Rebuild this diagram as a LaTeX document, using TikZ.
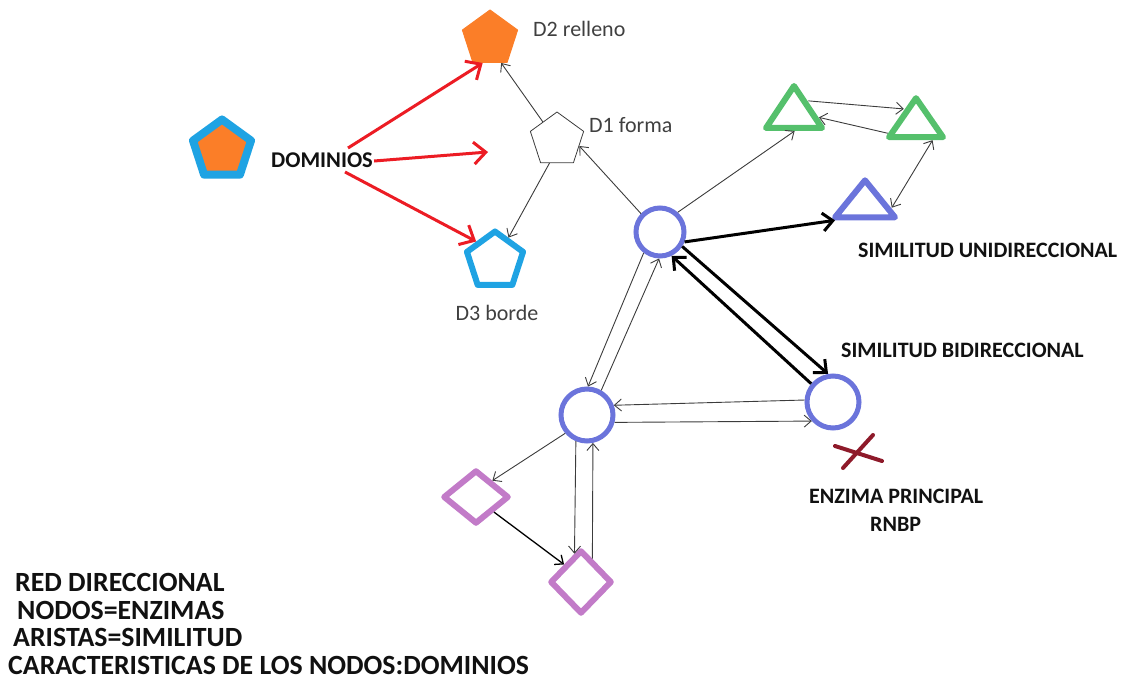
\documentclass[tikz,border=0pt]{standalone}
\usepackage{fontspec}
\setmainfont{Carlito}
\usetikzlibrary{arrows.meta,shapes.geometric,calc}

\definecolor{paintorange}{HTML}{FB7E28}
\definecolor{paintcyan}{HTML}{1FA3E3}
\definecolor{enzblue}{HTML}{6B74DB}
\definecolor{enzgreen}{HTML}{55C06C}
\definecolor{enzpurple}{HTML}{C27BC8}
\definecolor{paintred}{HTML}{EC1C24}
\definecolor{darkred}{HTML}{8E1A2A}
\definecolor{edgegray}{HTML}{3C3C3C}
\definecolor{labelgray}{HTML}{404040}
\definecolor{ink}{HTML}{111111}

\begin{document}
\begin{tikzpicture}[x=1pt,y=-1pt,
  enzyme/.style={circle, draw=enzblue, line width=5pt, minimum size=48pt, inner sep=0pt},
  pentabox/.style={regular polygon, regular polygon sides=5, inner sep=0pt, line join=round},
  tribox/.style={isosceles triangle, isosceles triangle stretches, shape border rotate=90,
              line width=6pt, line join=round, inner sep=0pt},
  diabox/.style={diamond, draw=enzpurple, line width=6pt, line join=round, inner sep=0pt},
  thinedge/.style={draw=edgegray, line width=0.9pt, -{Straight Barb[length=7pt,width=12pt]}},
  rededge/.style={draw=paintred, line width=3pt, -{Straight Barb[length=12pt,width=22pt]}},
  boldedge/.style={draw=black, line width=3pt, -{Straight Barb[length=10pt,width=18pt]}},
  plainlabel/.style={inner sep=0pt, text=labelgray, font=\fontsize{22}{26}\selectfont},
  boldlabel/.style={inner sep=0pt, text=ink, font=\fontsize{22}{26}\selectfont\bfseries},
  notelabel/.style={inner sep=0pt, text=ink, anchor=west, font=\fontsize{27.8}{32}\selectfont\bfseries}
]
\useasboundingbox (0,0) rectangle (1124,694);

% domain legend
\node[pentabox, draw=paintcyan, fill=paintorange, line width=8pt, minimum size=61pt] (legend) at (222,150) {};
\node[boldlabel, font=\fontsize{22.5}{26}\selectfont\bfseries] (dom) at (322,160) {DOMINIOS};

% domain kinds
\node[pentabox, draw=paintorange, fill=paintorange, line width=1pt, minimum size=58pt] (D2) at (490,39) {};
\node[pentabox, draw=edgegray, line width=0.8pt, minimum size=56pt] (D1) at (557,140) {};
\node[pentabox, draw=paintcyan, line width=6pt, minimum size=59pt] (D3) at (495,261) {};
\node[plainlabel, anchor=west] (D2l) at (533,29) {D2 relleno};
\node[plainlabel, anchor=west] (D1l) at (589,125) {D1 forma};
\node[plainlabel] (D3l) at (497,313) {D3 borde};

% enzymes
\node[enzyme] (C1) at (660,232) {};
\node[enzyme, minimum size=52pt] (C2) at (587,415) {};
\node[enzyme, minimum size=52pt] (C3) at (833,402) {};

\node[tribox, draw=enzgreen, minimum width=56pt, minimum height=42pt] (G1) at (794,113) {};
\node[tribox, draw=enzgreen, minimum width=54pt, minimum height=39pt] (G2) at (916,123) {};
\node[tribox, draw=enzblue, minimum width=60pt, minimum height=37pt] (B1) at (865,203) {};

\node[diabox, minimum width=66pt, minimum height=54pt] (Da) at (476,497) {};
\node[diabox, minimum width=62pt, minimum height=64pt] (Db) at (581,582) {};

% principal enzyme mark
\draw[darkred, line width=4pt, line cap=round] (835,446) -- (882,461);
\draw[darkred, line width=4pt, line cap=round] (843,468) -- (873,435);

% labels
\node[boldlabel, anchor=west] (uni) at (858,250) {SIMILITUD UNIDIRECCIONAL};
\node[boldlabel, anchor=west] (bi) at (841,350) {SIMILITUD BIDIRECCIONAL};
\node[boldlabel, anchor=west] (enz) at (809,496) {ENZIMA PRINCIPAL};
\node[boldlabel, anchor=west] (rnbp) at (870,524) {RNBP};

\node[notelabel] (n1) at (15,582) {RED DIRECCIONAL};
\node[notelabel] (n2) at (17,610) {NODOS=ENZIMAS};
\node[notelabel] (n3) at (13,637) {ARISTAS=SIMILITUD};
\node[notelabel] (n4) at (8,665) {CARACTERISTICAS DE LOS NODOS:DOMINIOS};

% red arrows from the legend
\coordinate (r2end) at (488,152);
\draw[rededge] ($(dom.center)+(26,-12)$) -- (D2.-107);
\draw[rededge] ($(dom.east)+(1,1)$) -- (r2end);
\draw[rededge] ($(dom.center)+(23,12)$) -- (D3.134);

% domain links
\draw[thinedge] (D1.128) -- (D2.-65);
\draw[thinedge] (D1.-108) -- (D3.60);
\draw[thinedge] (C1.136) -- (D1.-15);

% triangle cluster
\draw[thinedge] (C1.48) -- (G1.-88);
\draw[thinedge] (G1.40) -- (G2.131);
\draw[thinedge] (G2.-160) -- (G1.-10);
\draw[thinedge, {Straight Barb[length=7pt,width=12pt]}-{Straight Barb[length=7pt,width=12pt]}] (B1.-10) -- (G2.-46);
\draw[boldedge] (C1.-22) -- (B1.-150);

% bidirectional similarity
\draw[boldedge] (C3.140) -- (C1.-64);
\draw[boldedge] (C1.-33) -- (C3.100);

% lower cluster
\draw[thinedge] (C1.-128) -- (C2.88);
\draw[thinedge] (C2.60) -- (C1.-92);
\draw[thinedge] (C3.176) -- (C2.20);
\draw[thinedge] (C2.-15) -- (C3.-138);
\draw[thinedge] (C2.-140) -- (Da.45);
\draw[thinedge, draw=black, line width=1.3pt] (Da.-40) -- (Db.134);
\draw[thinedge] (C2.-113) -- (Db.103);
\draw[thinedge] (Db.64) -- (C2.-78);
\end{tikzpicture}
\end{document}
